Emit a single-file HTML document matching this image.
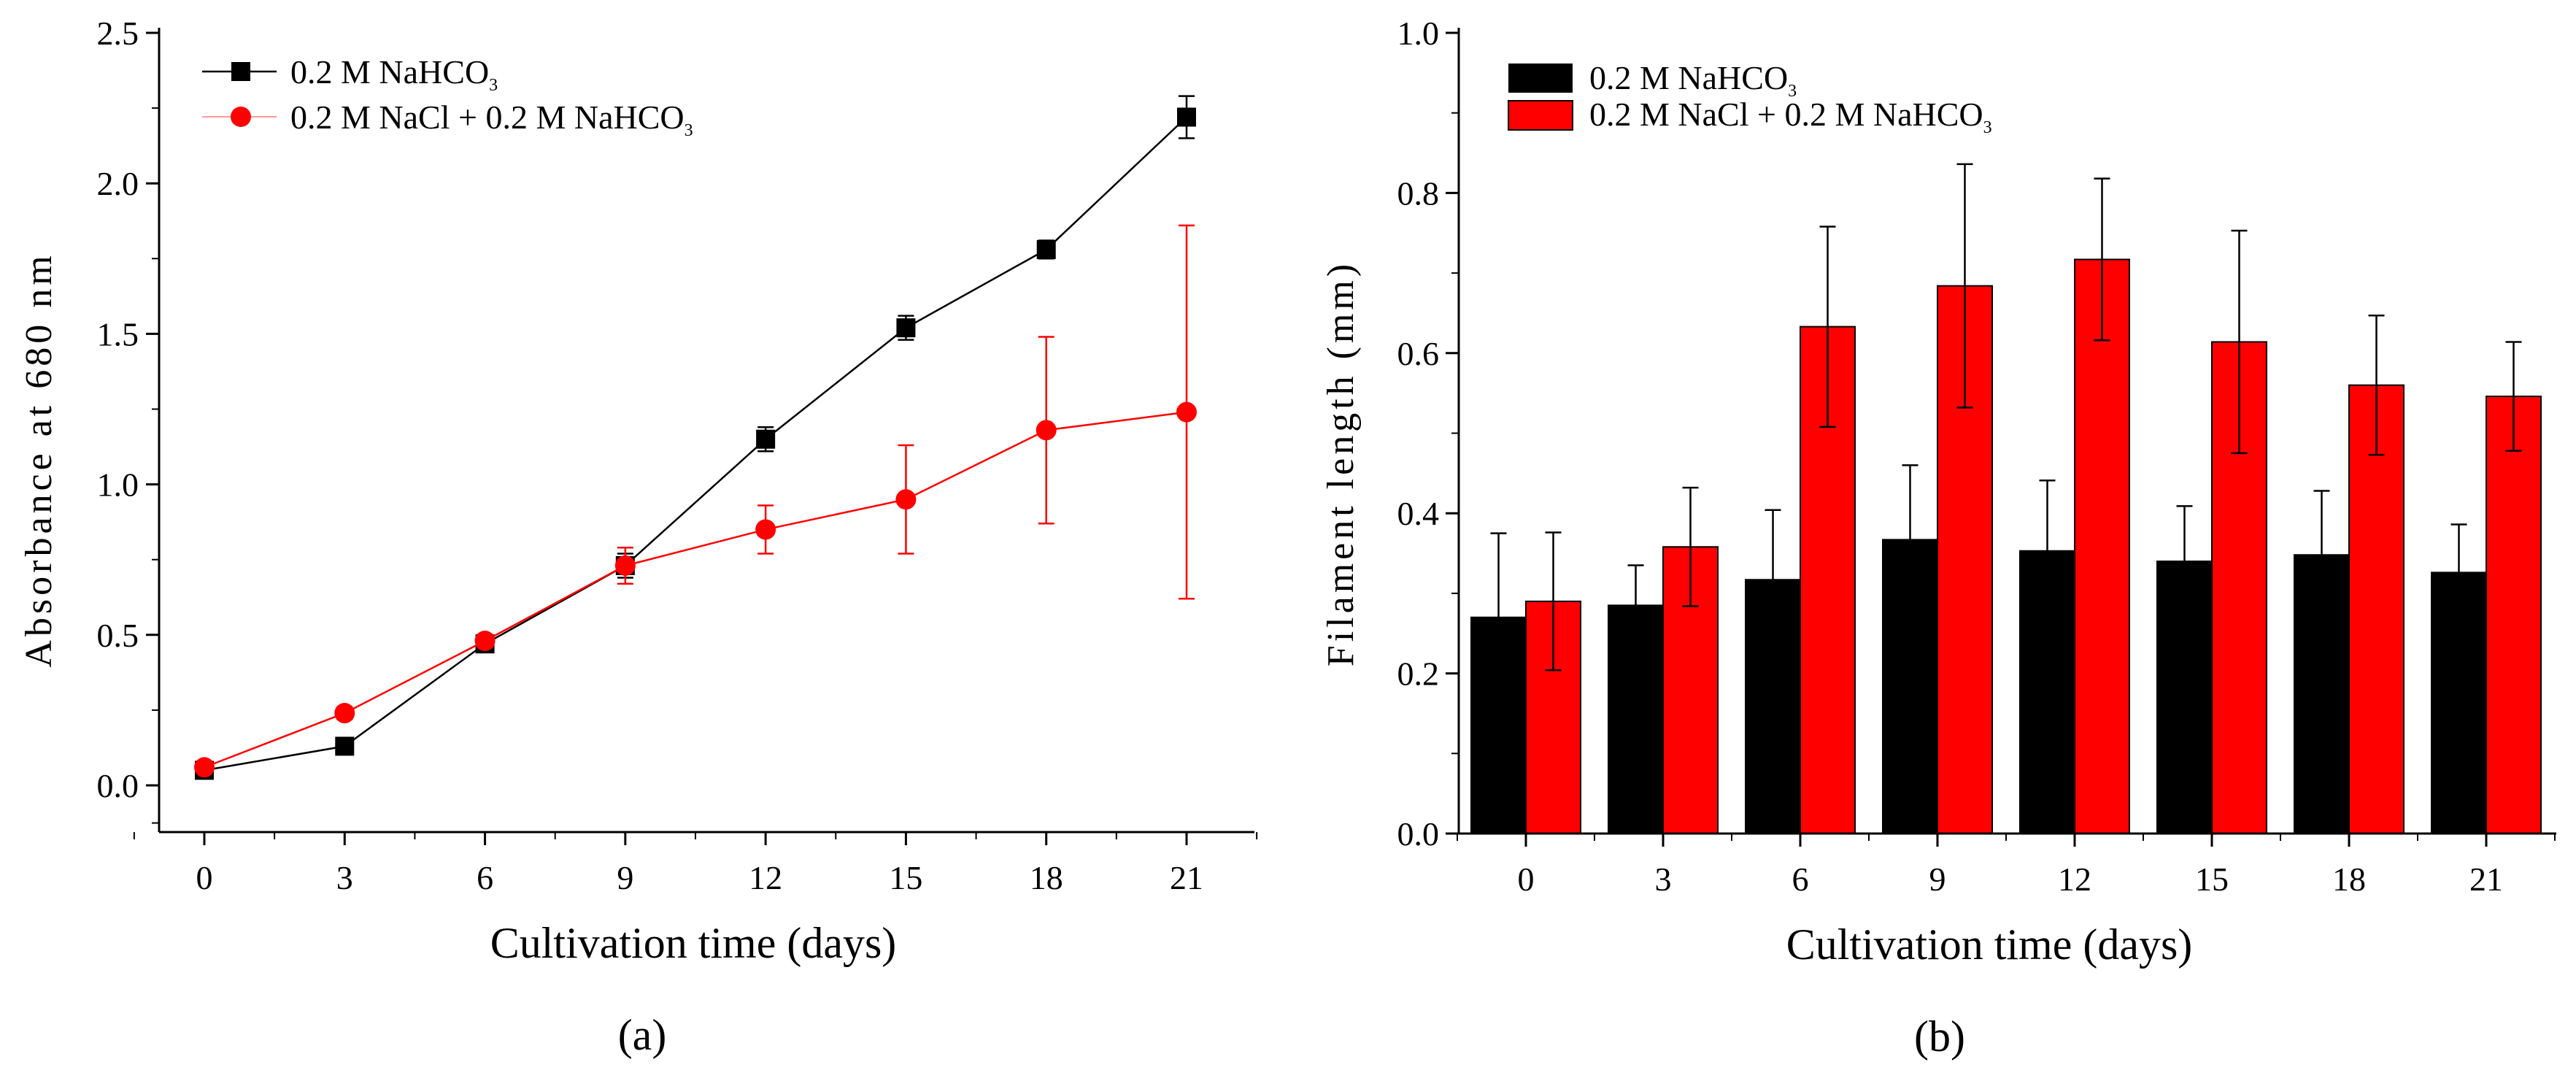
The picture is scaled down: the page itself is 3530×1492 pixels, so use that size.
<!DOCTYPE html>
<html><head><meta charset="utf-8"><style>
html,body{margin:0;padding:0;background:#fff;overflow:hidden;}
svg{display:block;font-family:"Liberation Serif",serif;}
</style></head><body>
<svg id="fig" width="3530" height="1492" viewBox="0 0 3530 1492" xmlns="http://www.w3.org/2000/svg"></svg>
<script>
const days = [0,3,6,9,12,15,18,21];
const absBlack = [0.05,0.13,0.47,0.73,1.15,1.52,1.78,2.22];
const absBlackErr = [0.01,0.02,0.02,0.04,0.04,0.04,0.03,0.07];
const absRed = [0.06,0.24,0.48,0.73,0.85,0.95,1.18,1.24];
const absRedErr = [0.01,0.02,0.02,0.06,0.08,0.18,0.31,0.62];
const absTicks = ["0.0","0.5","1.0","1.5","2.0","2.5"];
const lenBlack = [0.27,0.285,0.317,0.367,0.353,0.34,0.348,0.326];
const lenBlackErr = [0.105,0.05,0.087,0.093,0.088,0.069,0.08,0.06];
const lenRed = [0.29,0.358,0.633,0.684,0.717,0.614,0.56,0.546];
const lenRedErr = [0.086,0.074,0.125,0.152,0.101,0.139,0.087,0.068];
const lenTicks = ["0.0","0.2","0.4","0.6","0.8","1.0"];

const svg = document.getElementById('fig');
const NS = 'http://www.w3.org/2000/svg';
function el(tag, attrs, parent, text){
  const e = document.createElementNS(NS, tag);
  for (const k in attrs) e.setAttribute(k, attrs[k]);
  if (text !== undefined) e.textContent = text;
  (parent||svg).appendChild(e);
  return e;
}
function line(x1,y1,x2,y2,stroke,w,g){return el('line',{x1,y1,x2,y2,stroke,'stroke-width':w},g);}

// ---------- Panel A ----------
const ga = el('g',{});


const ax = d => 280 + (d/21)*(1626-280);
const ay = v => 1076 - v*(1076-45)/2.5;
const AB = 1140;
line(218,38,218,AB,'#000',3,ga);
line(218,AB,1719,AB,'#000',3,ga);
absTicks.forEach((t,i)=>{
  const v = parseFloat(t), y = ay(v);
  line(200,y,218,y,'#000',3,ga);
  if (i<absTicks.length-1) line(208,ay(v+0.25),218,ay(v+0.25),'#000',2,ga);
  const tx = el('text',{x:190,y:y+16,'text-anchor':'end','font-size':46},ga,t);
  
  
});
line(208,ay(-0.125),218,ay(-0.125),'#000',2,ga);
days.forEach((d,i)=>{
  const x = ax(d);
  line(x,AB,x,AB+18,'#000',3,ga);
  if (i<days.length-1) line(ax(d+1.5),AB,ax(d+1.5),AB+10,'#000',2,ga);
  const tx = el('text',{x:x,y:1218,'text-anchor':'middle','font-size':46},ga,String(d));
  
  
});
line(ax(-1.5),AB,ax(-1.5),AB+10,'#000',2,ga);
line(ax(22.5),AB,ax(22.5),AB+10,'#000',2,ga);
function series(vals, errs, color, marker, name){
  const g = el('g',{},ga);
  
  
  const pts = days.map((d,i)=>ax(d)+','+ay(vals[i])).join(' ');
  el('polyline',{points:pts,fill:'none',stroke:color,'stroke-width':2.5},g);
  days.forEach((d,i)=>{
    const x=ax(d), yt=ay(vals[i]+errs[i]), yb=ay(vals[i]-errs[i]);
    line(x,yt,x,yb,color,2.5,g); line(x-11,yt,x+11,yt,color,2.5,g); line(x-11,yb,x+11,yb,color,2.5,g);
    let m;
    if (marker==='sq') m = el('rect',{x:x-13,y:ay(vals[i])-13,width:26,height:26,fill:color},g);
    else m = el('circle',{cx:x,cy:ay(vals[i]),r:14,fill:color},g);
    
    
  });
}
series(absBlack,absBlackErr,'#000','sq','series-nahco3');
series(absRed,absRedErr,'#ff0000','ci','series-nacl-nahco3');
const la = el('g',{},ga);


line(277,98,379,98,'#000',2.5,la); el('rect',{x:317,y:85,width:26,height:26,fill:'#000'},la);
line(277,160,379,160,'#ff9999',2,la); el('circle',{cx:330,cy:160,r:14,fill:'#ff0000'},la);
el('text',{x:398,y:114,'font-size':46},la).innerHTML='0.2 M NaHCO<tspan font-size="24" dy="10">3</tspan>';
el('text',{x:398,y:176,'font-size':46},la).innerHTML='0.2 M NaCl + 0.2 M NaHCO<tspan font-size="24" dy="10">3</tspan>';
let t;
t = el('text',{x:0,y:0,'font-size':52,'text-anchor':'middle','letter-spacing':5,transform:'translate(70,630) rotate(-90)'},ga,'Absorbance at 680 nm');
 
t = el('text',{x:950,y:1312,'font-size':60,'text-anchor':'middle'},ga,'Cultivation time (days)');
 
t = el('text',{x:880,y:1438,'font-size':60,'text-anchor':'middle'},ga,'(a)');
 

// ---------- Panel B ----------
const gb = el('g',{});


const bx = i => 2091 + i*(3407-2091)/7;
const by = v => 1142 - v*(1142-45);
const BB = 1142;
const bw = 75;
days.forEach((d,i)=>{
  const c = bx(i);
  const b1 = el('rect',{x:c-bw,y:by(lenBlack[i]),width:bw,height:by(0)-by(lenBlack[i]),fill:'#000',stroke:'#000','stroke-width':2},gb);
  
  
  const b2 = el('rect',{x:c,y:by(lenRed[i]),width:bw,height:by(0)-by(lenRed[i]),fill:'#ff0000',stroke:'#000','stroke-width':2},gb);
  
  
  [[c-bw/2,lenBlack[i],lenBlackErr[i]],[c+bw/2,lenRed[i],lenRedErr[i]]].forEach(([x,v,e])=>{
    line(x,by(v+e),x,by(v-e),'#000',2.5,gb); line(x-11,by(v+e),x+11,by(v+e),'#000',2.5,gb);
    line(x-11,by(v-e),x+11,by(v-e),'#000',2.5,gb);
  });
});
line(1999,38,1999,BB,'#000',3,gb);
line(1999,BB,3503,BB,'#000',3,gb);
lenTicks.forEach((t,i)=>{
  const v=parseFloat(t), y=by(v);
  line(1981,y,1999,y,'#000',3,gb);
  if (i<lenTicks.length-1) line(1989,by(v+0.1),1999,by(v+0.1),'#000',2,gb);
  const tx = el('text',{x:1972,y:y+16,'text-anchor':'end','font-size':46},gb,t);
  
  
});
days.forEach((d,i)=>{
  const x=bx(i);
  line(x,BB,x,BB+18,'#000',3,gb);
  line(x-94,BB,x-94,BB+10,'#000',2,gb);
  const tx = el('text',{x:x,y:1220,'text-anchor':'middle','font-size':46},gb,String(d));
  
  
});
line(bx(7)+94,BB,bx(7)+94,BB+10,'#000',2,gb);
const lb = el('g',{},gb);


el('rect',{x:2067,y:87,width:88,height:40,fill:'#000'},lb);
el('rect',{x:2067,y:138,width:88,height:40,fill:'#ff0000',stroke:'#000','stroke-width':2},lb);
el('text',{x:2178,y:122,'font-size':46},lb).innerHTML='0.2 M NaHCO<tspan font-size="24" dy="10">3</tspan>';
el('text',{x:2178,y:172,'font-size':46},lb).innerHTML='0.2 M NaCl + 0.2 M NaHCO<tspan font-size="24" dy="10">3</tspan>';
t = el('text',{x:0,y:0,'font-size':52,'text-anchor':'middle','letter-spacing':5,transform:'translate(1854,635) rotate(-90)'},gb,'Filament length (mm)');
 
t = el('text',{x:2726,y:1314,'font-size':60,'text-anchor':'middle'},gb,'Cultivation time (days)');
 
t = el('text',{x:2658,y:1440,'font-size':60,'text-anchor':'middle'},gb,'(b)');
 
</script>
</body></html>
